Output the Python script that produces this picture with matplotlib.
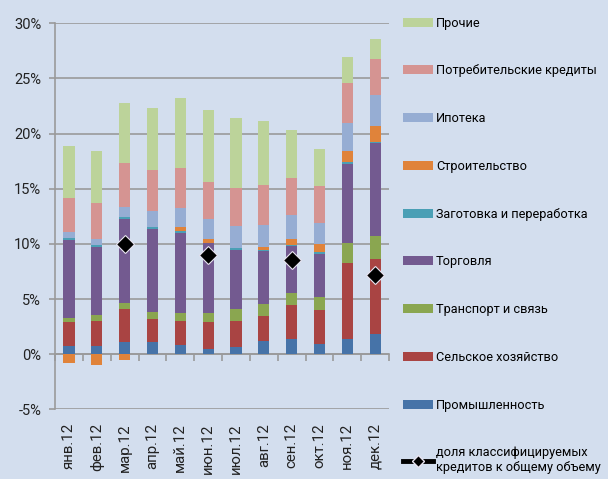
import numpy as np
import matplotlib
matplotlib.use("Agg")
import matplotlib.pyplot as plt
from matplotlib.patches import Patch
from matplotlib.lines import Line2D

plt.rcParams['font.family'] = ['Roboto', 'DejaVu Sans']

months = ['янв.12', 'фев.12', 'мар.12', 'апр.12', 'май.12', 'июн.12',
          'июл.12', 'авг.12', 'сен.12', 'окт.12', 'ноя.12', 'дек.12']

# % contributions, bottom to top
prom = [0.75, 0.75, 1.07, 1.07, 0.86, 0.50, 0.65, 1.20, 1.41, 0.95, 1.41, 1.86]
selsk = [2.15, 2.30, 3.05, 2.15, 2.15, 2.40, 2.35, 2.24, 3.03, 3.03, 6.88, 6.76]
transp = [0.35, 0.50, 0.50, 0.57, 0.68, 0.87, 1.05, 1.15, 1.15, 1.16, 1.81, 2.06]
torg = [7.10, 6.20, 7.65, 7.58, 7.30, 6.28, 5.39, 4.76, 4.21, 3.96, 7.15, 8.48]
zagot = [0.15, 0.15, 0.15, 0.12, 0.15, 0.05, 0.15, 0.05, 0.12, 0.15, 0.15, 0.05]
stroit = [-0.80, -0.95, -0.50, 0.0, 0.40, 0.35, 0.0, 0.30, 0.55, 0.73, 0.98, 1.46]
ipot = [0.55, 0.57, 0.96, 1.46, 1.74, 1.83, 2.01, 2.04, 2.18, 1.95, 2.60, 2.80]
potreb = [3.15, 3.23, 3.97, 3.73, 3.58, 3.37, 3.48, 3.56, 3.30, 3.30, 3.64, 3.27]
prochie = [4.65, 4.68, 5.45, 5.67, 6.34, 6.49, 6.36, 5.80, 4.35, 3.37, 2.36, 1.82]

# share of classified loans (quarterly only)
share = [np.nan, np.nan, 10.0, np.nan, np.nan, 9.0, np.nan, np.nan, 8.5, np.nan, np.nan, 7.16]

series = [
    ('Промышленность', prom, '#4673A8'),
    ('Сельское хозяйство', selsk, '#A94443'),
    ('Транспорт и связь', transp, '#8AA650'),
    ('Торговля', torg, '#735A90'),
    ('Заготовка и переработка', zagot, '#4A9FB5'),
    ('Строительство', stroit, '#E0833A'),
    ('Ипотека', ipot, '#96ADD3'),
    ('Потребительские кредиты', potreb, '#D59492'),
    ('Прочие', prochie, '#BCD39A'),
]

bg = '#D3DEEE'
grid_c = '#9A9A9A'

fig = plt.figure(figsize=(6.08, 4.79), dpi=100, facecolor=bg)
ax = fig.add_axes([0.0905, 0.1455, 0.5495, 0.8059])
ax.set_facecolor(bg)

x = np.arange(len(months))
pos_bottom = np.zeros(len(months))
neg_bottom = np.zeros(len(months))
for name, vals, color in series:
    v = np.array(vals)
    p = np.where(v > 0, v, 0)
    n = np.where(v < 0, v, 0)
    ax.bar(x, p, 0.4, bottom=pos_bottom, color=color, linewidth=0, zorder=3)
    ax.bar(x, n, 0.4, bottom=neg_bottom, color=color, linewidth=0, zorder=3)
    pos_bottom += p
    neg_bottom += n

ax.plot(x, share, linestyle='none', marker='D', markersize=9.5,
        markerfacecolor='black', markeredgecolor='#E8E4F0', markeredgewidth=0.8, zorder=5)

ax.set_xlim(-0.5, len(months) - 0.5)
ax.set_ylim(-5, 30)
ax.set_yticks(np.arange(-5, 31, 5))
ax.set_yticklabels([f'{t}%' for t in range(-5, 31, 5)])
ax.yaxis.grid(True, color=grid_c, linewidth=1.2, zorder=0)
ax.tick_params(axis='y', length=4, width=1.2, color=grid_c, pad=6, labelsize=10.5, labelcolor='#222222')

for s in ['top', 'right', 'bottom']:
    ax.spines[s].set_visible(False)
ax.spines['left'].set_color(grid_c)
ax.spines['left'].set_linewidth(1.2)

ax.set_xticks(x)
ax.set_xticklabels(months, rotation=90, fontsize=10.8, color='#222222')
ax.tick_params(axis='x', length=0, pad=10)

# category axis crossing at 0
sec = ax.secondary_xaxis(5 / 35)
sec.set_xticks(np.arange(-0.5, len(months), 1.0))
sec.set_xticklabels([])
sec.tick_params(length=5, width=1.2, color=grid_c)
sec.spines['bottom'].set_color(grid_c)
sec.spines['bottom'].set_linewidth(1.2)

handles = [Patch(facecolor=c, edgecolor='none') for _, _, c in reversed(series)]
labels = [nme for nme, _, _ in reversed(series)]
handles.append(Line2D([0], [0], color='black', linewidth=3.5, marker='D', markersize=6,
                      markerfacecolor='black', markeredgecolor='#E8E4F0'))
labels.append('доля классифицируемых\nкредитов к общему объему')

fig.legend(handles, labels, loc='upper left', bbox_to_anchor=(0.655, 0.976),
           frameon=False, fontsize=9.2, handlelength=2.35, handleheight=0.7,
           handletextpad=0.2, labelspacing=2.72, borderaxespad=0)

fig.savefig('out.png', dpi=100, facecolor=bg)
